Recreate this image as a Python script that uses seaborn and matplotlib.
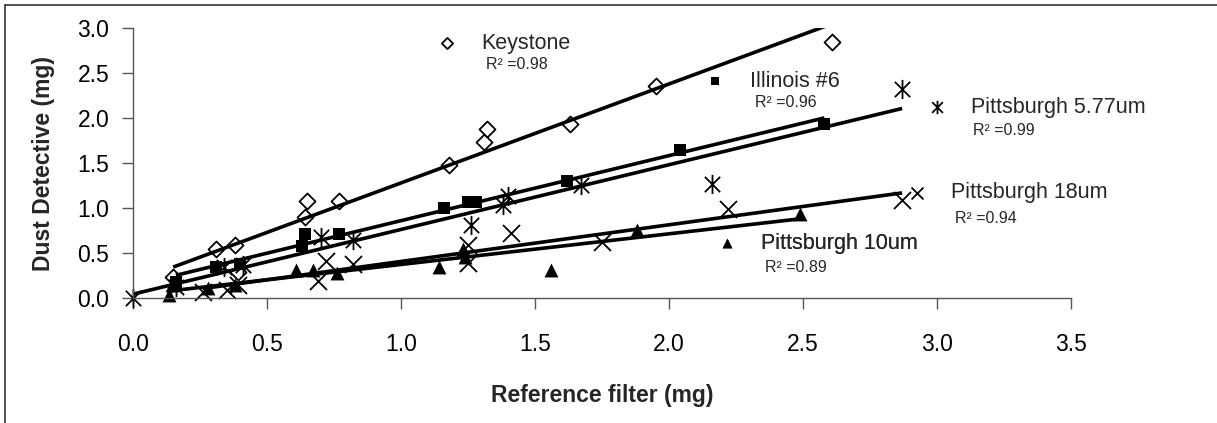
"""
Dust Detective vs reference filter mass, five dust types with linear trendlines.
"""

import numpy as np
import seaborn as sns
import matplotlib.pyplot as plt

from matplotlib.path import Path
from matplotlib.lines import Line2D
from matplotlib.ticker import FormatStrFormatter

# ---- data (mg) ----
keystone_x = [0.15, 0.31, 0.38, 0.39, 0.64, 0.65, 0.77, 1.18, 1.31, 1.32, 1.63, 1.95, 2.61]
keystone_y = [0.23, 0.54, 0.59, 0.29, 0.90, 1.08, 1.08, 1.48, 1.73, 1.88, 1.93, 2.36, 2.85]

illinois_x = [0.16, 0.31, 0.40, 0.63, 0.64, 0.77, 1.16, 1.25, 1.28, 1.62, 2.04, 2.58]
illinois_y = [0.18, 0.34, 0.38, 0.58, 0.71, 0.71, 1.00, 1.07, 1.07, 1.30, 1.65, 1.93]

pitt577_x = [0.00, 0.16, 0.34, 0.41, 0.70, 0.82, 1.26, 1.38, 1.40, 1.67, 2.16, 2.87]
pitt577_y = [0.00, 0.12, 0.35, 0.37, 0.68, 0.64, 0.81, 1.03, 1.13, 1.26, 1.27, 2.32]

pitt18_x = [0.26, 0.35, 0.39, 0.69, 0.72, 0.82, 1.25, 1.25, 1.41, 1.75, 2.22, 2.87]
pitt18_y = [0.07, 0.09, 0.14, 0.19, 0.41, 0.38, 0.59, 0.39, 0.72, 0.62, 0.99, 1.09]

pitt10_x = [0.135, 0.145, 0.28, 0.38, 0.61, 0.67, 0.76, 1.14, 1.23, 1.24, 1.56, 1.88, 2.49]
pitt10_y = [0.03, 0.14, 0.11, 0.14, 0.31, 0.31, 0.28, 0.35, 0.55, 0.46, 0.31, 0.76, 0.93]

series_names = ['Keystone', 'Illinois #6', 'Pittsburgh 5.77um', 'Pittsburgh 18um', 'Pittsburgh 10um']
r2_labels = ['0.98', '0.96', '0.99', '0.94', '0.89']

x_ticks = [0.0, 0.5, 1.0, 1.5, 2.0, 2.5, 3.0, 3.5]
y_ticks = [0.0, 0.5, 1.0, 1.5, 2.0, 2.5, 3.0]

# Excel style asterisk: an X with a vertical bar
asterisk = Path([(-1, -1), (1, 1), (-1, 1), (1, -1), (0, -1.25), (0, 1.25)],
                [Path.MOVETO, Path.LINETO, Path.MOVETO, Path.LINETO, Path.MOVETO, Path.LINETO])

styles = [
    dict(marker='D', s=66, facecolors='white', edgecolors='black', linewidths=1.3),
    dict(marker='s', s=80, color='black', linewidths=0),
    dict(marker=asterisk, s=190, color='black', linewidths=1.3),
    dict(marker='x', s=150, color='black', linewidths=1.3),
    dict(marker='^', s=100, color='black', linewidths=0),
]

# label positions (data coords): legend key anchor and R^2 text
key_pos = [(1.140, 2.83), (2.140, 2.41), (2.968, 2.12), (2.893, 1.167), (2.184, 0.611)]
r2_pos = [(1.317, 2.59), (2.321, 2.17), (3.134, 1.856), (3.067, 0.878), (2.358, 0.344)]

sns.set_style('ticks')
plt.rcParams['font.family'] = ['Liberation Sans', 'DejaVu Sans']

fig = plt.figure(figsize=(12.17, 4.23), dpi=100)
ax = fig.add_axes([0.1093, 0.2955, 0.7707, 0.6383])

all_x = [keystone_x, illinois_x, pitt577_x, pitt18_x, pitt10_x]
all_y = [keystone_y, illinois_y, pitt577_y, pitt18_y, pitt10_y]

handles = []
for xs, ys, st in zip(all_x, all_y, styles):
    kws = dict(st)
    marker = kws.pop('marker')
    kws['alpha'] = 1
    kws['clip_on'] = False
    # linear trendline over the data range, like the Excel trendlines
    sns.regplot(x=np.array(xs), y=np.array(ys), ax=ax, ci=None, marker=marker,
                color='black', scatter_kws=kws,
                line_kws={'color': 'black', 'lw': 2.6, 'solid_capstyle': 'butt'})
    handles.append(ax.collections[-1])

# series labels with their marker key and R^2 underneath
for h, name, r2, kp, rp in zip(handles, series_names, r2_labels, key_pos, r2_pos):
    leg = ax.legend([h], [name], loc='center left', bbox_to_anchor=kp,
                    bbox_transform=ax.transData, frameon=False, fontsize=15.5,
                    handlelength=0.8, handletextpad=1.2, borderpad=0, borderaxespad=0,
                    markerscale=0.7, scatterpoints=1)
    ax.add_artist(leg)
    ax.text(rp[0], rp[1], f'R² ={r2}', fontsize=11.5, ha='left', va='center')

ax.set_xlim(0, 3.5)
ax.set_ylim(0, 3.0)
ax.set_xticks(x_ticks)
ax.set_yticks(y_ticks)
ax.xaxis.set_major_formatter(FormatStrFormatter('%.1f'))
ax.yaxis.set_major_formatter(FormatStrFormatter('%.1f'))
ax.tick_params(axis='x', direction='out', length=8, width=1, colors='#555555',
               labelcolor='black', labelsize=16.5, pad=17)
ax.tick_params(axis='y', direction='out', length=8, width=1, colors='#555555',
               labelcolor='black', labelsize=16.5, pad=9)
ax.set_xlabel('Reference filter (mg)', fontsize=16.5, fontweight='bold', labelpad=20)
ax.set_ylabel('Dust Detective (mg)', fontsize=16.5, fontweight='bold', labelpad=16)
sns.despine(ax=ax)
for side in ['left', 'bottom']:
    ax.spines[side].set_color('#555555')
    ax.spines[side].set_linewidth(1)

# outer chart frame (only left and top edges are visible)
fig.add_artist(Line2D([5 / 1217, 5 / 1217], [0, 1 - 5 / 423], color='#333333', lw=1.2))
fig.add_artist(Line2D([5 / 1217, 1], [1 - 5 / 423, 1 - 5 / 423], color='#333333', lw=1.2))

plt.savefig('out.png', dpi=100)
